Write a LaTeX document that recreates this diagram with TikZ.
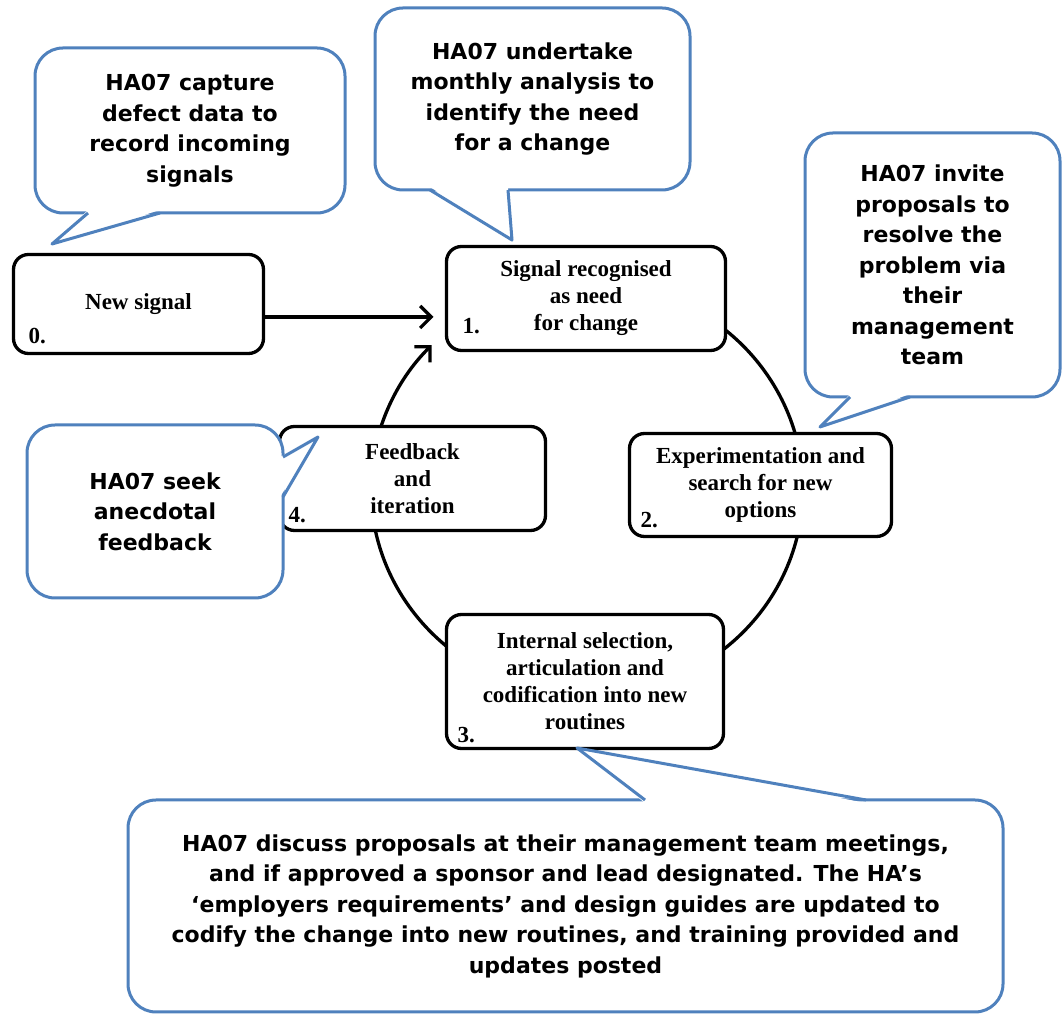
\documentclass[tikz,border=0pt]{standalone}
\usepackage{fontspec}
\setmainfont{Liberation Serif}
\newfontfamily\callfont{DejaVu Sans}
\usetikzlibrary{arrows.meta}
\definecolor{cblue}{RGB}{79,129,189}
\begin{document}
\begin{tikzpicture}[x=1pt,y=1pt,
  box/.style={draw=black, line width=3.3pt, rounded corners=15pt, fill=white, align=center,
    inner sep=0pt, outer sep=0pt, font=\fontsize{23}{27}\selectfont\bfseries},
  num/.style={font=\fontsize{23}{27}\selectfont\bfseries, inner sep=0pt, anchor=base west},
  callout/.style={draw=cblue, line width=3pt, rounded corners=28pt, fill=white, align=center,
    inner sep=0pt, outer sep=0pt, font=\callfont\fontsize{22}{30.5}\selectfont\bfseries},
  tailline/.style={draw=cblue, line width=3pt, line join=round},
  cyc/.style={line width=3.3pt},
  arr/.style={line width=3.3pt, -{Straight Barb[length=11pt,width=22pt]}}]

\useasboundingbox (0,0) rectangle (1063,1014);

% cycle
\coordinate (cc) at (587,525);
\draw[cyc] ([shift={(120:216pt and 207pt)}]cc) arc[start angle=120, end angle=-190, x radius=216pt, y radius=207pt];
\draw[arr] ([shift={(170:216pt and 207pt)}]cc) arc[start angle=170, end angle=136, x radius=216pt, y radius=207pt];

% boxes
\node[box, minimum width=250pt, minimum height=99pt] (b0) at (138.5,710) {New signal};
\node[box, minimum width=279pt, minimum height=104pt] (b1) at (586,715.5) {Signal recognised\\as need\\for change};
\node[box, minimum width=262pt, minimum height=103pt] (b2) at (760.5,529) {Experimentation and\\search for new\\options};
\node[box, minimum width=266pt, minimum height=104pt] (b4) at (412.5,535.5) {Feedback\\and\\iteration};
\node[box, minimum width=277pt, minimum height=134pt] (b3) at (585,332.5) {Internal selection,\\articulation and\\codification into new\\routines};

\node[num] (n0) at ([shift={(15,10)}]b0.south west) {0.};
\node[num] (n1) at ([shift={(16,17)}]b1.south west) {1.};
\node[num] (n2) at ([shift={(11,9)}]b2.south west) {2.};
\node[num] (n4) at ([shift={(9,8)}]b4.south west) {4.};
\node[num] (n3) at ([shift={(11,6)}]b3.south west) {3.};

% arrow 0 -> 1
\coordinate (a0) at ([yshift=-13pt]b0.east);
\coordinate (a1) at ([xshift=-13pt]b1.west);
\draw[arr] (a0) -- (a0 -| a1);

% callouts
\node[callout, minimum width=310pt, minimum height=165pt] (c1) at (190,883.5) {HA07 capture\\defect data to\\record incoming\\signals};
\coordinate (c1a) at (88,801); \coordinate (c1p) at (52,770); \coordinate (c1b) at (160,801);
\fill[white] ([yshift=3pt]c1a) -- (c1p) -- ([yshift=3pt]c1b) -- cycle;
\draw[tailline] (c1a) -- (c1p) -- (c1b);

\node[callout, minimum width=315pt, minimum height=182pt] (c2) at (532.5,915) {HA07 undertake\\monthly analysis to\\identify the need\\for a change};
\coordinate (c2a) at (430,824); \coordinate (c2p) at (512,774); \coordinate (c2b) at (508,824);
\fill[white] ([yshift=3pt]c2a) -- (c2p) -- ([yshift=3pt]c2b) -- cycle;
\draw[tailline] (c2a) -- (c2p) -- (c2b);

\node[callout, minimum width=255pt, minimum height=264pt] (c3) at (932.5,749) {HA07 invite\\proposals to\\resolve the\\problem via\\their\\management\\team};
\coordinate (c3a) at (850,617); \coordinate (c3p) at (820,587); \coordinate (c3b) at (910,617);
\fill[white] ([yshift=3pt]c3a) -- (c3p) -- ([yshift=3pt]c3b) -- cycle;
\draw[tailline] (c3a) -- (c3p) -- (c3b);

\node[callout, minimum width=256pt, minimum height=173pt] (c4) at (155,502.5) {HA07 seek\\anecdotal\\feedback};
\coordinate (c4a) at (283,557); \coordinate (c4p) at (318,577); \coordinate (c4b) at (283,517);
\fill[white] ([xshift=-3pt]c4a) -- (c4p) -- ([xshift=-3pt]c4b) -- cycle;
\draw[tailline] (c4a) -- (c4p) -- (c4b);

\node[callout, minimum width=875pt, minimum height=212pt] (c5) at (565.5,108) {HA07 discuss proposals at their management team meetings,\\and if approved a sponsor and lead designated. The HA’s\\‘employers requirements’ and design guides are updated to\\codify the change into new routines, and training provided and\\updates posted};
\coordinate (c5a) at (645,214); \coordinate (c5p) at (577,266); \coordinate (c5b) at (866,214);
\fill[white] ([yshift=-3pt]c5a) -- (c5p) -- ([yshift=-3pt]c5b) -- cycle;
\draw[tailline] (c5a) -- (c5p) -- (c5b);
\end{tikzpicture}
\end{document}
